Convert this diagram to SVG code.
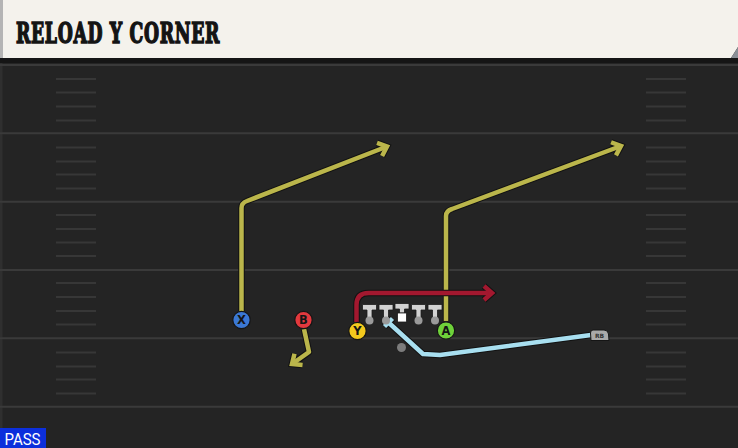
<svg xmlns="http://www.w3.org/2000/svg" width="738" height="448" viewBox="0 0 738 448">
<style>
.yl{stroke:#3a3a3a;stroke-width:2;fill:none}
.hs{stroke:#373737;stroke-width:1.8;fill:none}
.ol{fill:none;stroke:#121212;stroke-width:6.5;stroke-linejoin:round}
.rt{fill:none;stroke-width:4.5;stroke-linejoin:round}
.lab{font-family:"DejaVu Sans","Liberation Sans",sans-serif;font-weight:bold;font-size:11.5px;fill:#151515;text-anchor:middle}
.ln{fill:#d2d2d2;stroke:#1c1c1c;stroke-width:0.8}
.lc{fill:#9a9a9a}
</style>
<defs>
<marker id="mo" viewBox="-12 -12 24 24" markerWidth="24" markerHeight="24" refX="0" refY="0" orient="auto" markerUnits="userSpaceOnUse" overflow="visible">
<path d="M-8,-7 L0,0 L-8,7" fill="none" stroke="#121212" stroke-width="6.5" stroke-linejoin="miter"/>
</marker>
<marker id="my" viewBox="-12 -12 24 24" markerWidth="24" markerHeight="24" refX="0" refY="0" orient="auto" markerUnits="userSpaceOnUse" overflow="visible">
<path d="M-8,-7 L0,0 L-8,7" fill="none" stroke="#bbb64b" stroke-width="4.5" stroke-linejoin="miter"/>
</marker>
<marker id="mr" viewBox="-12 -12 24 24" markerWidth="24" markerHeight="24" refX="0" refY="0" orient="auto" markerUnits="userSpaceOnUse" overflow="visible">
<path d="M-8,-7 L0,0 L-8,7" fill="none" stroke="#a3182f" stroke-width="4.5" stroke-linejoin="miter"/>
</marker>
</defs>
<rect x="0" y="0" width="738" height="448" fill="#242424"/>
<rect x="0" y="60" width="2.5" height="388" fill="#2f2f2f"/>
<g id="field">
<line class="yl" x1="0" y1="65" x2="738" y2="65"/>
<line class="yl" x1="0" y1="133.3" x2="738" y2="133.3"/>
<line class="yl" x1="0" y1="201.7" x2="738" y2="201.7"/>
<line class="yl" x1="0" y1="270" x2="738" y2="270"/>
<line class="yl" x1="0" y1="338.3" x2="738" y2="338.3"/>
<line class="yl" x1="0" y1="406.7" x2="738" y2="406.7"/>
<path class="hs" d="M56 79H96M56 92.5H96M56 106.5H96M56 120.5H96M56 147.5H96M56 161.5H96M56 174.5H96M56 188.5H96M56 215H96M56 229H96M56 242.5H96M56 256H96M56 283H96M56 297H96M56 311H96M56 324.5H96M56 352.5H96M56 366.5H96M56 379.5H96M56 393.5H96"/>
<path class="hs" d="M646 79H686M646 92.5H686M646 106.5H686M646 120.5H686M646 147.5H686M646 161.5H686M646 174.5H686M646 188.5H686M646 215H686M646 229H686M646 242.5H686M646 256H686M646 283H686M646 297H686M646 311H686M646 324.5H686M646 352.5H686M646 366.5H686M646 379.5H686M646 393.5H686"/>
</g>
<g id="header">
<rect x="0" y="57" width="738" height="6" fill="#151515"/>
<polygon points="0,0 738,0 738,47 731,58 0,58" fill="#f4f2ec"/>
<polygon points="738,47 731,58 738,58" fill="#8a8f96"/>
<rect x="0" y="0" width="3" height="58" fill="#b4b4b4"/>
<text x="16" y="42.5" font-family="'DejaVu Serif Condensed','DejaVu Serif',serif" font-weight="bold" font-size="28" letter-spacing="1" textLength="204" lengthAdjust="spacingAndGlyphs" fill="#141414" stroke="#141414" stroke-width="1.5" stroke-linejoin="miter">RELOAD Y CORNER</text>
</g>
<g id="connectors">
<path class="ol" d="M241.5,311 L241.5,208 Q241.5,203 247,201 L387,146.5" marker-end="url(#mo)"/>
<path class="rt" stroke="#bbb64b" d="M241.5,311 L241.5,208 Q241.5,203 247,201 L387,146.5" marker-end="url(#my)"/>
<path class="ol" d="M446,321 L446,216 Q446,211 452,209 L621,146" marker-end="url(#mo)"/>
<path class="rt" stroke="#bbb64b" d="M446,321 L446,216 Q446,211 452,209 L621,146" marker-end="url(#my)"/>
<path class="ol" d="M304,329 L309,352 L292,364" marker-end="url(#mo)"/>
<path class="rt" stroke="#bbb64b" d="M304,329 L309,352 L292,364" marker-end="url(#my)"/>
<path class="ol" d="M356.5,322 L356.5,305 Q356.5,293 368.5,293 L492,293" marker-end="url(#mo)"/>
<path class="rt" stroke="#a3182f" d="M356.5,322 L356.5,305 Q356.5,293 368.5,293 L492,293" marker-end="url(#mr)"/>
<path class="ol" d="M591,335 L440,355 L423,354 L388.5,322.5 M384.5,326.5 L392.5,318.5"/>
<path class="rt" stroke="#a8dff0" d="M591,335 L440,355 L423,354 L388.5,322.5 M384.5,326.5 L392.5,318.5"/>
</g>
<g id="line">
<path class="ln" d="M362.5,304.5H376.5V310H372V318H367V310H362.5Z"/>
<circle class="lc" cx="369.5" cy="320.5" r="4"/>
<path class="ln" d="M379,304.5H393V310H388.5V318H383.5V310H379Z"/>
<circle class="lc" cx="386" cy="320.5" r="4"/>
<path class="ln" d="M411.5,304.5H425.5V310H421V318H416V310H411.5Z"/>
<circle class="lc" cx="418.5" cy="320.5" r="4"/>
<path class="ln" d="M428,304.5H442V310H437.5V318H432.5V310H428Z"/>
<circle class="lc" cx="435" cy="320.5" r="4"/>
<path class="ln" d="M395,303.5H409V309H404.5V313H399.5V309H395Z"/>
<rect x="397.5" y="313" width="9" height="9" fill="#ffffff" stroke="#1c1c1c" stroke-width="0.8"/>
<circle cx="401.5" cy="347.5" r="4.5" fill="#7c7c7c"/>
</g>
<g id="X">
<circle cx="241.5" cy="320" r="8.7" fill="#3b78d4" stroke="#151515" stroke-width="1.2"/>
<text class="lab" x="241.5" y="324.2">X</text>
</g>
<g id="B">
<circle cx="303.5" cy="320" r="8.7" fill="#e2393e" stroke="#151515" stroke-width="1.2"/>
<text class="lab" x="303.5" y="324.2">B</text>
</g>
<g id="Y">
<circle cx="357.5" cy="331" r="8.7" fill="#f3c91d" stroke="#151515" stroke-width="1.2"/>
<text class="lab" x="357.5" y="335.2">Y</text>
</g>
<g id="A">
<circle cx="446" cy="330.5" r="8.7" fill="#6fd23a" stroke="#151515" stroke-width="1.2"/>
<text class="lab" x="446" y="334.7">A</text>
</g>
<g id="RB">
<path d="M593,330 H604 Q608,330 608.5,334 L609,340.5 H591 L590.5,333 Q590.5,330 593,330Z" fill="#a9a9a9" stroke="#151515" stroke-width="1"/>
<text x="599.5" y="338" font-family="'DejaVu Sans',sans-serif" font-size="6" font-weight="bold" fill="#333" text-anchor="middle">RB</text>
</g>
<g id="pass">
<rect x="0" y="428" width="46" height="20" fill="#0c2fdc"/>
<text x="4.5" y="445" font-family="Roboto,'Liberation Sans',sans-serif" font-size="16" textLength="36" lengthAdjust="spacingAndGlyphs" fill="#ffffff">PASS</text>
</g>
</svg>
